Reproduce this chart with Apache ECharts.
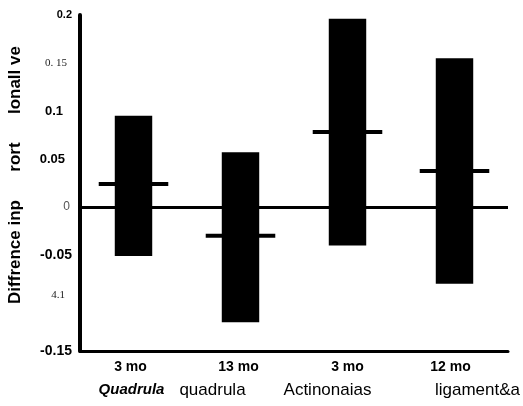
<!DOCTYPE html>
<html><head><meta charset="utf-8">
<script src="https://cdn.jsdelivr.net/npm/echarts@6/dist/echarts.min.js"></script>
<style>html,body{margin:0;padding:0;background:#fff}#c{width:523px;height:406px}</style>
</head><body><div id="c"></div>
<script>
const categories = ['3 mo', '13 mo', '3 mo', '12 mo'];
const groupLabels = ['Quadrula', 'quadrula', 'Actinonaias', 'ligament&a'];
const lowValues = [-0.051, -0.120, -0.040, -0.080];
const highValues = [0.095, 0.057, 0.196, 0.155];
const meanValues = [0.024, -0.030, 0.078, 0.0375];
const yTickValues = [-0.15, -0.1, -0.05, 0, 0.05, 0.1, 0.15, 0.2];
const yTickLabels = ['-0.15', '4.1', '-0.05', '0', '0.05', '0.1', '0. 15', '0.2'];
const yTickStyles = ['b', 's2', 'b', 'l', 'b5', 'n', 's', 'b2'];
const yAxisTitle = 'Diffrence inp      rort      lonall ve';

const SANS = "'Liberation Sans', Arial, sans-serif";
const SERIF = "'Liberation Serif', 'DejaVu Serif', serif";

const chart = echarts.init(document.getElementById('c'), null, {renderer: 'canvas'});

const rowShift1 = [-3, -2, 0, -4];
const rowShift2 = [-2, -28, -20, 23];
const pad = (s) => [0, s < 0 ? -2 * s : 0, 0, s > 0 ? 2 * s : 0];
const xRich = {};
categories.forEach((c, i) => {
  xRich['m' + i] = {
    fontFamily: SANS, fontWeight: 'bold', fontSize: 14, color: '#000', lineHeight: 20,
    padding: pad(rowShift1[i])
  };
  xRich['g' + i] = {
    fontFamily: SANS, fontWeight: i === 0 ? 'bold' : 'normal', fontStyle: i === 0 ? 'italic' : 'normal',
    fontSize: i === 0 ? 15 : 17, color: '#000', lineHeight: 26,
    padding: pad(rowShift2[i])
  };
});

const option = {
  animation: false,
  backgroundColor: '#fff',
  grid: {left: 80, right: 15, top: 15, bottom: 55, containLabel: false, outerBoundsMode: 'none'},
  xAxis: {
    type: 'category',
    data: categories,
    axisLine: {show: true, onZero: false, lineStyle: {color: '#000', width: 3}},
    axisTick: {show: false},
    axisLabel: {
      interval: 0, margin: 6,
      formatter: (v, i) => '{m' + i + '|' + v + '}\n{g' + i + '|' + groupLabels[i] + '}',
      rich: xRich
    }
  },
  yAxis: {
    type: 'value',
    min: -0.15, max: 0.2, interval: 0.05,
    name: yAxisTitle,
    nameLocation: 'middle',
    nameGap: 56,
    nameTextStyle: {fontFamily: SANS, fontWeight: 'bold', fontSize: 17, color: '#000', padding: [0, 0, 0, 16]},
    axisLine: {show: true, lineStyle: {color: '#000', width: 4}},
    axisTick: {show: false},
    splitLine: {show: false},
    axisLabel: {
      margin: 8,
      formatter: (v) => {
        const i = yTickValues.findIndex(t => Math.abs(t - v) < 1e-9);
        if (i < 0) return '';
        return '{' + yTickStyles[i] + '|' + yTickLabels[i] + '}';
      },
      rich: {
        b: {fontFamily: SANS, fontWeight: 'bold', fontSize: 14, color: '#000'},
        b2: {fontFamily: SANS, fontWeight: 'bold', fontSize: 11, color: '#000'},
        b5: {fontFamily: SANS, fontWeight: 'bold', fontSize: 13, color: '#000', padding: [0, 7, 0, 0]},
        n: {fontFamily: SANS, fontWeight: 'bold', fontSize: 13, color: '#000', padding: [0, 9, 0, 0]},
        s: {fontFamily: SERIF, fontSize: 11, color: '#222', padding: [0, 5, 0, 0]},
        s2: {fontFamily: SERIF, fontSize: 11, color: '#222', padding: [0, 7, 16, 0]},
        l: {fontFamily: SANS, fontSize: 12, color: '#555', padding: [0, 2, 0, 0]}
      }
    }
  },
  series: [{
    type: 'custom',
    data: categories.map((c, i) => [i, lowValues[i], highValues[i], meanValues[i]]),
    encode: {x: 0, y: [1, 2, 3]},
    renderItem: (params, api) => {
      const x = api.value(0);
      const pLo = api.coord([x, api.value(1)]);
      const pHi = api.coord([x, api.value(2)]);
      const pM = api.coord([x, api.value(3)]);
      const band = api.size([1, 0])[0];
      const bw = band * 0.35, tw = band * 0.65;
      return {
        type: 'group',
        children: [
          {type: 'rect', shape: {x: pHi[0] - bw / 2, y: pHi[1], width: bw, height: pLo[1] - pHi[1]}, style: {fill: '#000'}},
          {type: 'rect', shape: {x: pM[0] - tw / 2, y: pM[1] - 2, width: tw, height: 4}, style: {fill: '#000'}}
        ]
      };
    },
    markLine: {
      silent: true, symbol: 'none', label: {show: false},
      lineStyle: {color: '#000', width: 3, type: 'solid'},
      data: [{yAxis: 0}]
    }
  }]
};
chart.setOption(option);
</script>
</body></html>
